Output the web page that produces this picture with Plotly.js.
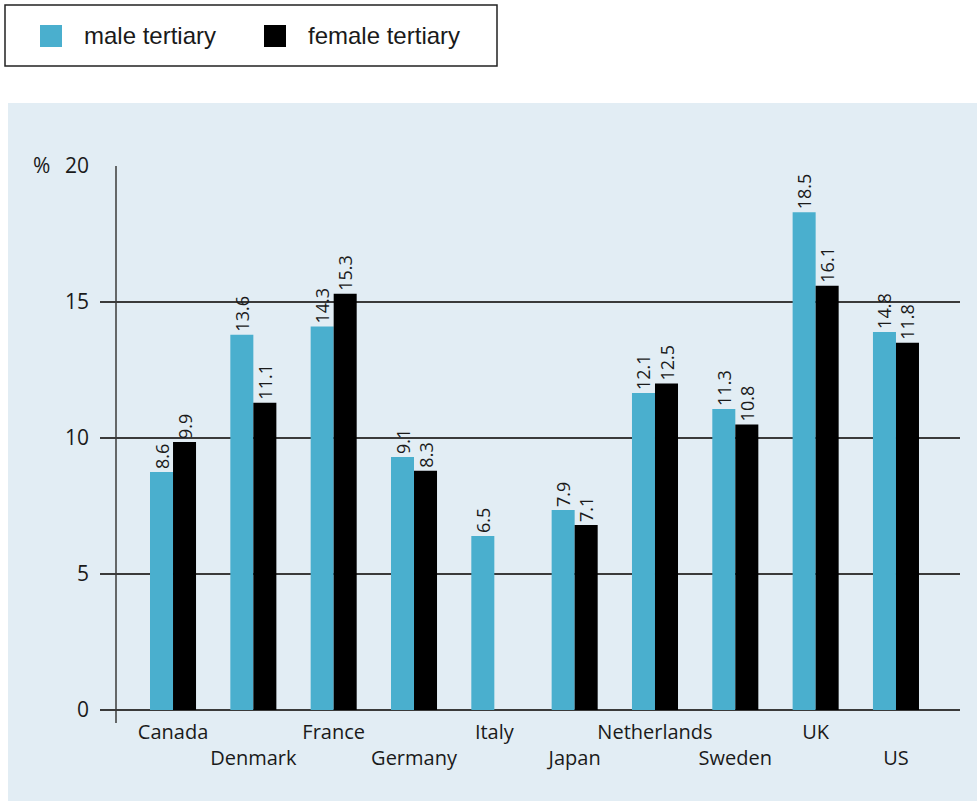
<!DOCTYPE html>
<html>
<head>
<meta charset="utf-8">
<script src="https://cdn.plot.ly/plotly-3.0.1.min.js"></script>
<style>html,body{margin:0;padding:0;background:#fff;}#chart{width:977px;height:801px;}</style>
</head>
<body>
<div id="chart"></div>
<script>
// Categories
const countries = ["Canada","Denmark","France","Germany","Italy","Japan","Netherlands","Sweden","UK","US"];
// Bar heights as drawn (%)
const maleValues   = [8.75, 13.8, 14.1, 9.3, 6.4, 7.35, 11.65, 11.07, 18.3, 13.9];
const femaleValues = [9.85, 11.3, 15.3, 8.8, null, 6.8, 12.0, 10.5, 15.6, 13.5];
// Value labels printed above bars
const maleLabels   = ["8.6","13.6","14.3","9.1","6.5","7.9","12.1","11.3","18.5","14.8"];
const femaleLabels = ["9.9","11.1","15.3","8.3","","7.1","12.5","10.8","16.1","11.8"];
// Axis ticks
const yTicks = [0, 5, 10, 15, 20];
const seriesNames = ["male tertiary", "female tertiary"];

const MALE = "#4aafce", FEMALE = "#000000", TXT = "#1a1a1a", GRID = "#3a3a3a";
const FONT = "Open Sans, Noto Sans, sans-serif";

const tickText = countries.map((c, i) => (i % 2 ? "<br>" + c : c));

const common = {
  type: "bar",
  x: countries,
  textposition: "outside",
  textangle: -90,
  constraintext: "none",
  cliponaxis: false,
  textfont: {family: FONT, size: 18, color: TXT},
  outsidetextfont: {family: FONT, size: 18, color: TXT},
  hoverinfo: "x+y+name",
  showlegend: false
};

const traces = [
  Object.assign({}, common, {name: seriesNames[0], y: maleValues, text: maleLabels, marker: {color: MALE}}),
  Object.assign({}, common, {name: seriesNames[1], y: femaleValues, text: femaleLabels, marker: {color: FEMALE}})
];

// helpers: convert figure pixels to paper coords of the plot area
const L = 100, R = 960, T = 166, B = 710;
const px = v => (v - L) / (R - L);
const py = v => (B - v) / (B - T);

const layout = {
  width: 977, height: 801,
  margin: {l: L, r: 977 - R, t: T, b: 801 - B, pad: 0},
  paper_bgcolor: "#ffffff",
  plot_bgcolor: "rgba(0,0,0,0)",
  barmode: "group",
  bargap: 0.427,
  bargroupgap: 0,
  font: {family: FONT, color: TXT},
  xaxis: {
    type: "category",
    range: [-0.909, 9.797],
    tickmode: "array",
    tickvals: countries,
    ticktext: tickText,
    tickangle: 0,
    showgrid: false, zeroline: false, showline: false,
    ticks: "",
    ticklabelstandoff: 8,
    tickfont: {family: FONT, size: 20, color: TXT},
    fixedrange: true
  },
  yaxis: {
    range: [0, 20],
    tickmode: "array",
    tickvals: yTicks,
    showgrid: true, gridcolor: GRID, gridwidth: 1.5,
    zeroline: true, zerolinecolor: GRID, zerolinewidth: 1.5,
    showline: false, ticks: "",
    ticklabelstandoff: 10,
    tickfont: {family: FONT, size: 21, color: TXT},
    fixedrange: true
  },
  shapes: [
    // light blue panel
    {type: "rect", xref: "paper", yref: "paper", layer: "below",
     x0: px(8), x1: px(977), y0: py(801), y1: py(103),
     fillcolor: "#e2edf4", line: {width: 0}},
    // vertical axis line
    {type: "line", xref: "paper", yref: "paper",
     x0: px(116), x1: px(116), y0: py(723), y1: py(166),
     line: {color: GRID, width: 1.5}},
    // legend box
    {type: "rect", xref: "paper", yref: "paper",
     x0: px(5), x1: px(497), y0: py(66), y1: py(5),
     fillcolor: "#ffffff", line: {color: "#222222", width: 1.5}},
    {type: "rect", xref: "paper", yref: "paper",
     x0: px(40), x1: px(62), y0: py(47), y1: py(25),
     fillcolor: MALE, line: {width: 0}},
    {type: "rect", xref: "paper", yref: "paper",
     x0: px(264), x1: px(286), y0: py(47), y1: py(25),
     fillcolor: FEMALE, line: {width: 0}}
  ],
  annotations: [
    {xref: "paper", yref: "paper", x: px(82), y: py(35), xanchor: "left", yanchor: "middle",
     text: seriesNames[0], showarrow: false,
     font: {family: "Liberation Sans, Arial, sans-serif", size: 24, color: TXT}},
    {xref: "paper", yref: "paper", x: px(306), y: py(35), xanchor: "left", yanchor: "middle",
     text: seriesNames[1], showarrow: false,
     font: {family: "Liberation Sans, Arial, sans-serif", size: 24, color: TXT}},
    {xref: "paper", yref: "paper", x: px(52), y: py(165), xanchor: "right", yanchor: "middle",
     text: "%", showarrow: false,
     font: {family: FONT, size: 21, color: TXT}}
  ]
};

Plotly.newPlot("chart", traces, layout, {displayModeBar: false, staticPlot: true});
</script>
</body>
</html>
